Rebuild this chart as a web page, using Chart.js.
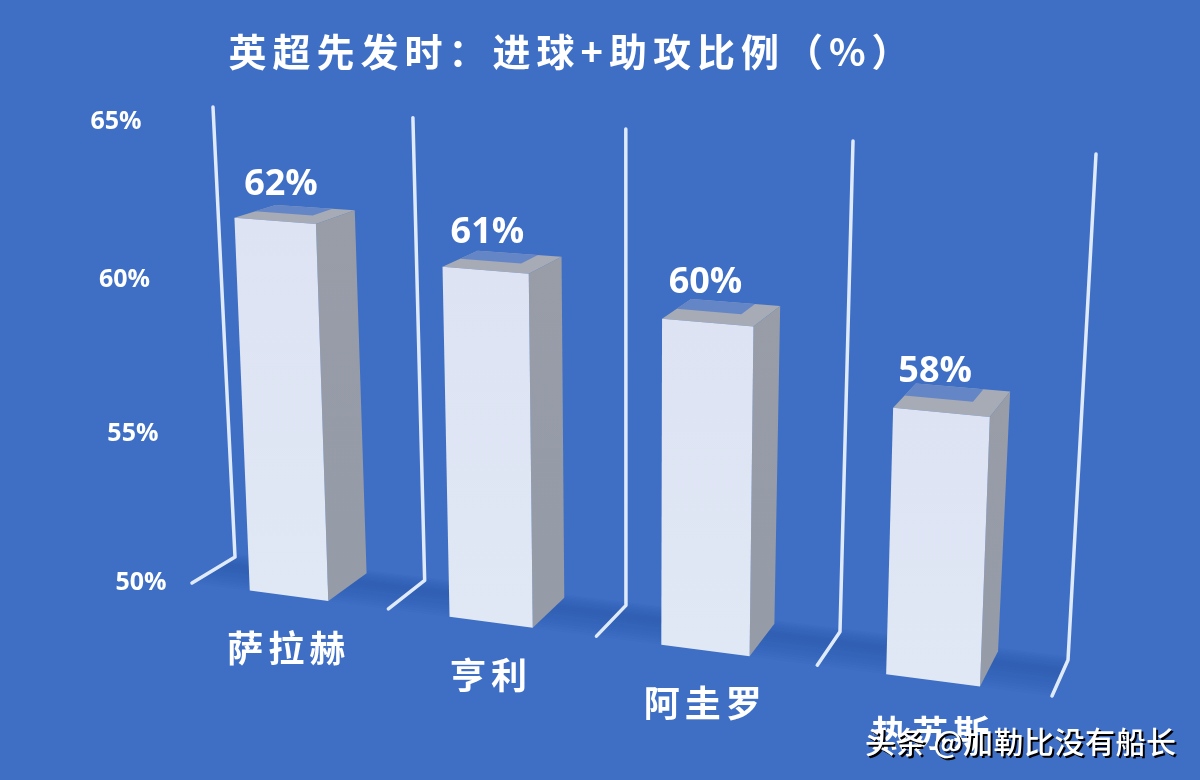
<!DOCTYPE html>
<html>
<head>
<meta charset="utf-8">
<title>英超先发时</title>
<script src="https://cdn.jsdelivr.net/npm/chart.js@4/dist/chart.umd.min.js"></script>
<style>
    html, body { margin: 0; padding: 0; background: #3e6fc5; }
    canvas { display: block; }
</style>
</head>
<body>
<canvas id="chart" width="1200" height="780"></canvas>
<script>
const titleText = "英超先发时\uFF1A进球+助攻比例\uFF08%\uFF09";
const watermark = "头条 @加勒比没有船长";
const players = ["萨拉赫", "亨利", "阿圭罗", "热苏斯"];
const ratios = [62, 61, 60, 58];
const yTicks = [50, 55, 60, 65];

// corners of the wall and of the front plane: top-left, top-right, bottom-right, bottom-left
const backQuad = [[213, 107], [1096, 154], [1068, 660], [235, 557]];
const frontQuad = [[170, 116], [1075, 173], [1052, 696], [192, 583]];

function homography(q) {
    const [x0, y0] = q[0], [x1, y1] = q[1], [x2, y2] = q[2], [x3, y3] = q[3];
    const dx1 = x1 - x2, dx2 = x3 - x2, dx3 = x0 - x1 + x2 - x3;
    const dy1 = y1 - y2, dy2 = y3 - y2, dy3 = y0 - y1 + y2 - y3;
    const den = dx1 * dy2 - dx2 * dy1;
    const g = (dx3 * dy2 - dx2 * dy3) / den;
    const h = (dx1 * dy3 - dx3 * dy1) / den;
    const a = x1 - x0 + g * x1, b = x3 - x0 + h * x3;
    const d = y1 - y0 + g * y1, e = y3 - y0 + h * y3;
    return (u, v) => {
        const w = g * u + h * v + 1;
        return [(a * u + b * v + x0) / w, (d * u + e * v + y0) / w];
    };
}
const backH = homography(backQuad);
const frontH = homography(frontQuad);

// u, v: position in the plot area (0..1), depth: 0 on the wall, 1 at the front
function project(u, v, depth) {
    const p = backH(u, v), q = frontH(u, v);
    return [p[0] + (q[0] - p[0]) * depth, p[1] + (q[1] - p[1]) * depth];
}

function fillPoly(ctx, pts, color) {
    ctx.beginPath();
    pts.forEach((p, i) => i ? ctx.lineTo(p[0], p[1]) : ctx.moveTo(p[0], p[1]));
    ctx.closePath();
    ctx.fillStyle = color;
    ctx.fill();
}

function label(ctx, text, x, y, font, spacing) {
    ctx.font = font;
    ctx.letterSpacing = (spacing || 0) + "px";
    ctx.fillText(text, x, y);
    ctx.letterSpacing = "0px";
}

const perspectivePlugin = {
    id: "perspective",
    afterDatasetsDraw(chart) {
        const ctx = chart.ctx;
        const area = chart.chartArea;
        const xs = chart.scales.x, ys = chart.scales.y;
        const toU = px => (px - area.left) / area.width;
        const toV = py => (py - area.top) / area.height;
        const catW = xs.width / players.length;
        ctx.save();

        // floor shadow, stacked so it fades both ways from its middle
        for (let i = 1; i <= 10; i++) {
            const d0 = 0.3 - i * 0.04, d1 = 0.3 + i * 0.07;
            fillPoly(ctx, [project(0, 1, d0), project(1, 1, d0), project(1, 1, d1), project(0, 1, d1)], "rgba(38,78,160,0.05)");
        }

        // category boundaries: up the wall and out along the floor
        ctx.strokeStyle = "#dfeafc";
        ctx.lineWidth = 3.5;
        ctx.lineCap = "round";
        ctx.lineJoin = "round";
        for (let i = 0; i <= players.length; i++) {
            const u = toU(xs.left + i * catW);
            const a = project(u, 0, 0), b = project(u, 1, 0), c = project(u, 1, 1);
            ctx.beginPath();
            ctx.moveTo(a[0], a[1]);
            ctx.lineTo(b[0], b[1]);
            ctx.lineTo(c[0], c[1]);
            ctx.stroke();
        }

        // bars, from the elements Chart.js laid out
        const meta = chart.getDatasetMeta(0);
        ctx.textAlign = "center";
        ctx.textBaseline = "middle";
        meta.data.forEach((el, i) => {
            const l = toU(el.x - el.width / 2), r = toU(el.x + el.width / 2);
            const t = toV(el.y), b = toV(el.base);
            const mid = (l + r) / 2;
            const tl = project(l, t, 1), tr = project(r, t, 1), br = project(r, b, 1), bl = project(l, b, 1);
            const tlB = project(l, t, 0), trB = project(r, t, 0), brB = project(r, b, 0);
            const side = ctx.createLinearGradient(0, trB[1], 0, brB[1]);
            side.addColorStop(0, "#989da8");
            side.addColorStop(1, "#959ba7");
            fillPoly(ctx, [tr, trB, brB, br], side);
            fillPoly(ctx, [tl, tlB, trB, tr], "#a6abb6");
            // bluish patch at the back of the top face
            const m = l + (r - l) * 0.72;
            fillPoly(ctx, [project(l, t, 0.5), project(l, t, 0), project(m, t, 0), project(m, t, 0.5)], "#6485c6");
            const front = ctx.createLinearGradient(0, tl[1], 0, bl[1]);
            front.addColorStop(0, "#dde3f2");
            front.addColorStop(1, "#e0e7f5");
            fillPoly(ctx, [tl, tr, br, bl], front);

            ctx.fillStyle = "#ffffff";
            const c = project(mid, t, 1);
            label(ctx, ratios[i] + "%", c[0] + 8 - 16 * mid, c[1] - 35 - 7 * mid, "bold 36px 'Open Sans'");
            const f = project(mid, b, 1);
            label(ctx, players[i], f[0], f[1] + 53, "bold 36px 'Noto Sans CJK SC'", 5);
        });

        // value axis, set off to the left of the front plane
        ctx.fillStyle = "#ffffff";
        ys.ticks.forEach(tick => {
            const v = toV(ys.getPixelForValue(tick.value));
            const p = project(0, v, 1);
            label(ctx, tick.value + "%", p[0] - 54 + 3 * v, p[1] + 5.5 - 6 * v, "bold 25px 'Open Sans'");
        });

        label(ctx, titleText, 572, 52, "bold 38px 'Noto Sans CJK SC'", 6);

        ctx.textAlign = "left";
        ctx.fillStyle = "#000000";
        label(ctx, watermark, 867, 744, "500 30px 'Noto Sans CJK SC'", 0.5);
        ctx.fillStyle = "#ffffff";
        label(ctx, watermark, 865, 742, "500 30px 'Noto Sans CJK SC'", 0.5);
        ctx.restore();
    }
};

new Chart(document.getElementById("chart"), {
    type: "bar",
    data: {
        labels: players,
        datasets: [{
            data: ratios,
            base: yTicks[0],
            backgroundColor: "transparent",
            barPercentage: 0.4,
            categoryPercentage: 1
        }]
    },
    options: {
        responsive: false,
        animation: false,
        plugins: { legend: { display: false }, tooltip: { enabled: false } },
        scales: {
            x: { display: false },
            y: {
                display: false,
                min: yTicks[0],
                max: yTicks[yTicks.length - 1],
                ticks: { stepSize: yTicks[1] - yTicks[0] }
            }
        }
    },
    plugins: [perspectivePlugin]
});
</script>
</body>
</html>
